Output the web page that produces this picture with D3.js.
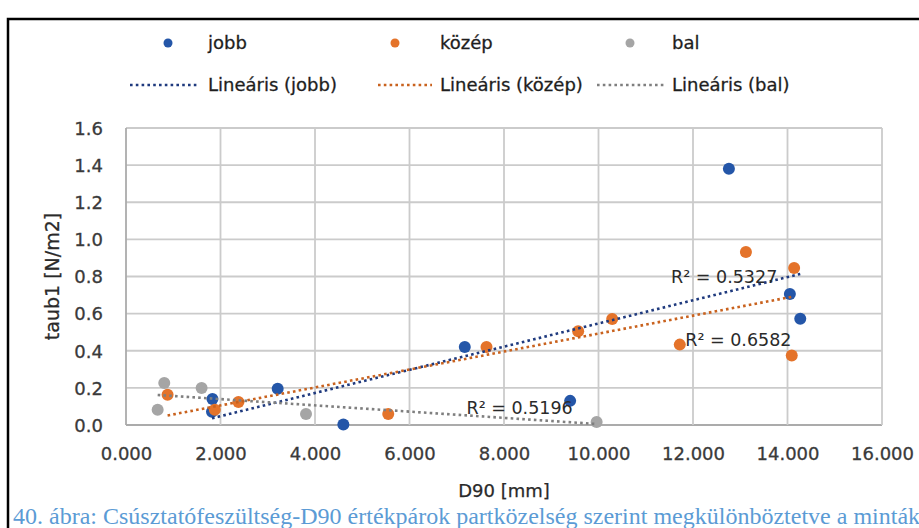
<!DOCTYPE html>
<html>
<head>
<meta charset="utf-8">
<script src="https://cdn.jsdelivr.net/npm/d3@7"></script>
<style>
  body { margin: 0; background: #fff; }
  svg { display: block; }
  .tick-label { font-family: "DejaVu Sans", sans-serif; font-size: 18px; fill: #3a3a3a; stroke: #3a3a3a; stroke-width: 0.3px; }
  .axis-title { font-family: "DejaVu Sans", sans-serif; fill: #2a2a2a; stroke: #2a2a2a; stroke-width: 0.25px; }
  .legend-text { font-family: "DejaVu Sans", sans-serif; font-size: 18px; fill: #1e1e1e; stroke: #1e1e1e; stroke-width: 0.3px; }
  .r2 { font-family: "DejaVu Sans", sans-serif; font-size: 17.5px; fill: #2a2a2a; }
  .caption { font-family: "Liberation Serif", "Times New Roman", serif; font-size: 24px; fill: #5b9bd5; }
</style>
</head>
<body>
<div id="vis"></div>
<script>
// values (D90 in mm, taub1 in N/m2)
var jobbX = [1.83, 1.82, 3.21, 4.60, 7.17, 9.40, 12.76, 14.05, 14.27];
var jobbY = [0.140, 0.072, 0.195, 0.003, 0.420, 0.130, 1.380, 0.706, 0.573];

var kozepX = [0.88, 1.88, 2.38, 5.55, 7.63, 9.57, 10.29, 11.72, 13.12, 14.14, 14.09];
var kozepY = [0.163, 0.082, 0.124, 0.059, 0.420, 0.505, 0.571, 0.433, 0.932, 0.846, 0.375];

var balX = [0.67, 0.81, 1.60, 3.81, 9.96];
var balY = [0.082, 0.226, 0.199, 0.059, 0.016];

var seriesNames = ['jobb', 'közép', 'bal'];
var trendNames = ['Lineáris (jobb)', 'Lineáris (közép)', 'Lineáris (bal)'];
var r2Labels = ['R² = 0.5327', 'R² = 0.6582', 'R² = 0.5196'];

var xTicks = [0, 2, 4, 6, 8, 10, 12, 14, 16];
var yTicks = [0, 0.2, 0.4, 0.6, 0.8, 1.0, 1.2, 1.4, 1.6];

var xTitle = 'D90 [mm]';
var yTitle = 'taub1 [N/m2]';
var caption = '40. ábra: Csúsztatófeszültség-D90 értékpárok partközelség szerint megkülönböztetve a minták';

// colours
var pointColors = ['#2456a8', '#e4732a', '#a5a5a5'];
var trendColors = ['#1f3a7e', '#c9621e', '#7f7f7f'];

var width = 919, height = 528;
var margin = { top: 128, right: 37, bottom: 103, left: 126 };
var drawWidth = width - margin.left - margin.right,
    drawHeight = height - margin.top - margin.bottom;

var svg = d3.select('#vis').append('svg')
    .attr('width', width)
    .attr('height', height);

// outer frame (right and bottom edges fall outside the picture)
svg.append('path')
    .attr('d', 'M8,' + (height + 5) + ' V19 H' + (width + 5))
    .attr('fill', 'none')
    .attr('stroke', '#000')
    .attr('stroke-width', 2.5);

var xScale = d3.scaleLinear().domain([0, 16]).range([0, drawWidth]);
var yScale = d3.scaleLinear().domain([0, 1.6]).range([drawHeight, 0]);

var g = svg.append('g')
    .attr('transform', 'translate(' + margin.left + ',' + margin.top + ')');

// gridlines
g.append('g').selectAll('line').data(yTicks).enter().append('line')
    .attr('x1', 0).attr('x2', drawWidth)
    .attr('y1', function(d) { return yScale(d); })
    .attr('y2', function(d) { return yScale(d); })
    .attr('stroke', function(d) { return d === 0 ? '#ababab' : '#cbcbcb'; })
    .attr('stroke-width', 1.8);

g.append('g').selectAll('line').data(xTicks).enter().append('line')
    .attr('y1', 0).attr('y2', drawHeight)
    .attr('x1', function(d) { return xScale(d); })
    .attr('x2', function(d) { return xScale(d); })
    .attr('stroke', function(d) { return d === 0 ? '#ababab' : '#cbcbcb'; })
    .attr('stroke-width', 1.8);

// axes: use d3 axes for labels, hide their lines
var xAxis = d3.axisBottom(xScale).tickValues(xTicks).tickSize(0).tickPadding(0)
    .tickFormat(d3.format('.3f'));
var yAxis = d3.axisLeft(yScale).tickValues(yTicks).tickSize(0).tickPadding(0)
    .tickFormat(d3.format('.1f'));

var xAxisG = g.append('g')
    .attr('transform', 'translate(0,' + drawHeight + ')')
    .call(xAxis);
xAxisG.select('.domain').remove();
xAxisG.selectAll('text')
    .attr('class', 'tick-label')
    .attr('y', 35)
    .attr('dy', null);

var yAxisG = g.append('g').call(yAxis);
yAxisG.select('.domain').remove();
yAxisG.selectAll('text')
    .attr('class', 'tick-label')
    .attr('x', -23)
    .attr('dy', '0.35em');
xAxisG.attr('font-family', null).attr('font-size', null);
yAxisG.attr('font-family', null).attr('font-size', null);

// axis titles
svg.append('text')
    .attr('class', 'axis-title')
    .attr('x', margin.left + drawWidth / 2)
    .attr('y', 497)
    .attr('text-anchor', 'middle')
    .style('font-size', '18px')
    .text(xTitle);

svg.append('text')
    .attr('class', 'axis-title')
    .attr('transform', 'translate(59,' + (margin.top + drawHeight / 2) + ') rotate(-90)')
    .attr('text-anchor', 'middle')
    .style('font-size', '19px')
    .text(yTitle);

// series
var series = [
    { xs: jobbX, ys: jobbY },
    { xs: kozepX, ys: kozepY },
    { xs: balX, ys: balY }
];
series.forEach(function(s, i) {
    s.points = s.xs.map(function(x, j) { return { x: x, y: s.ys[j] }; });
    s.color = pointColors[i];
    s.trendColor = trendColors[i];
});

// least squares fit for the trendlines
var fit = function(pts) {
    var mx = d3.mean(pts, function(d) { return d.x; });
    var my = d3.mean(pts, function(d) { return d.y; });
    var sxy = d3.sum(pts, function(d) { return (d.x - mx) * (d.y - my); });
    var sxx = d3.sum(pts, function(d) { return (d.x - mx) * (d.x - mx); });
    var b = sxy / sxx;
    return { b: b, a: my - b * mx };
};

// draw order: bal, jobb, közép
[2, 0, 1].forEach(function(i) {
    var s = series[i];
    g.append('g').selectAll('circle').data(s.points).enter().append('circle')
        .attr('cx', function(d) { return xScale(d.x); })
        .attr('cy', function(d) { return yScale(d.y); })
        .attr('r', 6)
        .attr('fill', s.color);
});

var line = d3.line()
    .x(function(d) { return xScale(d.x); })
    .y(function(d) { return yScale(d.y); });

series.forEach(function(s) {
    var f = fit(s.points);
    var ext = d3.extent(s.points, function(d) { return d.x; });
    var ends = ext.map(function(x) { return { x: x, y: f.a + f.b * x }; });
    g.append('path')
        .attr('d', line(ends))
        .attr('fill', 'none')
        .attr('stroke', s.trendColor)
        .attr('stroke-width', 2.6)
        .attr('stroke-dasharray', '2.6,3.2');
});

// R² labels, anchored in data units
var r2Pos = [{ x: 12.66, y: 0.80 }, { x: 12.96, y: 0.46 }, { x: 8.33, y: 0.093 }];
g.append('g').selectAll('text').data(r2Labels).enter().append('text')
    .attr('class', 'r2')
    .attr('x', function(d, i) { return xScale(r2Pos[i].x); })
    .attr('y', function(d, i) { return yScale(r2Pos[i].y); })
    .attr('text-anchor', 'middle')
    .attr('dy', '0.35em')
    .text(function(d) { return d; });

// legend
var legendMarkX = [168, 395, 630];
var legendLineX = [[130, 198], [378, 432], [597, 664]];
var legendTextX = [[208, 208], [440, 440], [672, 672]];

var leg = svg.append('g');
seriesNames.forEach(function(name, i) {
    leg.append('circle')
        .attr('cx', legendMarkX[i]).attr('cy', 43)
        .attr('r', 4.5)
        .attr('fill', pointColors[i]);
    leg.append('text')
        .attr('class', 'legend-text')
        .attr('x', legendTextX[i][0]).attr('y', 43)
        .attr('dy', '0.35em')
        .text(name);
    leg.append('line')
        .attr('x1', legendLineX[i][0]).attr('x2', legendLineX[i][1])
        .attr('y1', 85).attr('y2', 85)
        .attr('stroke', trendColors[i])
        .attr('stroke-width', 2.6)
        .attr('stroke-dasharray', '2.6,3.2');
    leg.append('text')
        .attr('class', 'legend-text')
        .attr('x', legendTextX[i][1]).attr('y', 85)
        .attr('dy', '0.35em')
        .text(trendNames[i]);
});

// caption under the chart
svg.append('text')
    .attr('class', 'caption')
    .attr('x', 13)
    .attr('y', 524)
    .text(caption);
</script>
</body>
</html>
